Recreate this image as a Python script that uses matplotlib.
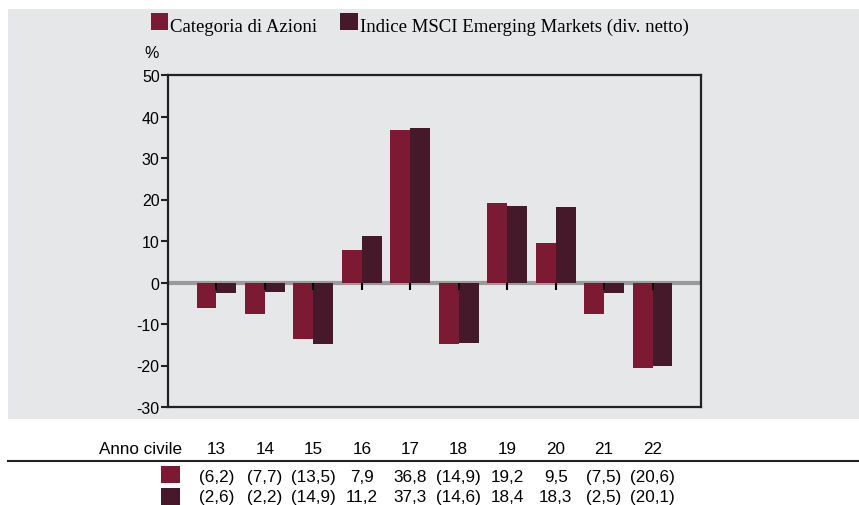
import matplotlib
matplotlib.use("Agg")
import matplotlib.pyplot as plt
from matplotlib.patches import Rectangle
from matplotlib.transforms import blended_transform_factory
from matplotlib.markers import TICKDOWN

years = ["13", "14", "15", "16", "17", "18", "19", "20", "21", "22"]
series_names = ["Categoria di Azioni", "Indice MSCI Emerging Markets (div. netto)"]
categoria = [-6.2, -7.7, -13.5, 7.9, 36.8, -14.9, 19.2, 9.5, -7.5, -20.6]
indice = [-2.6, -2.2, -14.9, 11.2, 37.3, -14.6, 18.4, 18.3, -2.5, -20.1]
yticks = [-30, -20, -10, 0, 10, 20, 30, 40, 50]
row_label = "Anno civile"

colors = ["#7c1a33", "#46192a"]
bg = "#e6e7e9"
W, H = 859, 506

plt.rcParams["font.family"] = ["Liberation Sans", "DejaVu Sans"]

fig = plt.figure(figsize=(W / 100, H / 100), dpi=100)
fig.patch.set_facecolor("white")


def fx(px):
    return px / W


def fy(py):
    return 1 - py / H


# gray background panel
fig.patches.append(Rectangle((fx(8), fy(420)), 1 - fx(8), fy(10) - fy(420),
                             transform=fig.transFigure, facecolor=bg,
                             edgecolor="none", zorder=-5))

ax = fig.add_axes([fx(168), fy(408), fx(701) - fx(168), fy(76) - fy(408)])
ax.set_zorder(1)
ax.set_facecolor(bg)
x = list(range(len(years)))
bw = 0.41
ax.axhline(0, color="#9a9a9a", lw=3, zorder=1)
ax.bar([i - bw for i in x], categoria, width=bw, align="edge", color=colors[0], zorder=2)
ax.bar(x, indice, width=bw, align="edge", color=colors[1], zorder=2)
ax.plot(x, [0] * len(x), linestyle="none", marker=TICKDOWN, ms=5, mew=1.5,
        color="black", zorder=5)

ax.set_xlim(-1, len(years))
ax.set_ylim(-30, 50)
ax.set_yticks(yticks)
ax.set_yticklabels([str(v) for v in yticks], fontsize=11.5)
ax.set_xticks([])
ax.tick_params(axis="y", length=5, width=1.5, pad=1, color="#222222")
for s in ax.spines.values():
    s.set_linewidth(1.6)
    s.set_color("#222222")

fig.text(fx(144), fy(58), "%", fontsize=11.5, ha="left", va="baseline")

# legend
leg_sq = [(151, 168), (340, 358)]
for (x0, x1), name, c in zip(leg_sq, series_names, colors):
    fig.patches.append(Rectangle((fx(x0), fy(31)), fx(x1) - fx(x0), fy(14) - fy(31),
                                 transform=fig.transFigure, facecolor=c,
                                 edgecolor="none"))
    fig.text(fx(x1 + 2), fy(32), name, fontsize=13.5, family="Liberation Serif",
             ha="left", va="baseline")

# table below
tr = blended_transform_factory(ax.transData, fig.transFigure)
fig.text(fx(182), fy(454), row_label, fontsize=12.3, ha="right", va="baseline")
for i, yr in enumerate(years):
    fig.text(i, fy(454), yr, fontsize=12.3, ha="center", va="baseline", transform=tr)

fig.add_artist(plt.Line2D([fx(8), 1], [fy(462), fy(462)], transform=fig.transFigure,
                          color="#222222", lw=1.5))


def fmt(v):
    s = f"{abs(v):.1f}".replace(".", ",")
    return f"({s})" if v < 0 else s


rows = [categoria, indice]
row_base = [482, 502]
row_sq = [(467, 484), (489, 506)]
for vals, base, (y0, y1), c in zip(rows, row_base, row_sq, colors):
    fig.patches.append(Rectangle((fx(161), fy(y1)), fx(180) - fx(161), fy(y0) - fy(y1),
                                 transform=fig.transFigure, facecolor=c,
                                 edgecolor="none"))
    for i, v in enumerate(vals):
        fig.text(i, fy(base), fmt(v), fontsize=12.3, ha="center", va="baseline", transform=tr)

fig.savefig("out.png", dpi=100)
